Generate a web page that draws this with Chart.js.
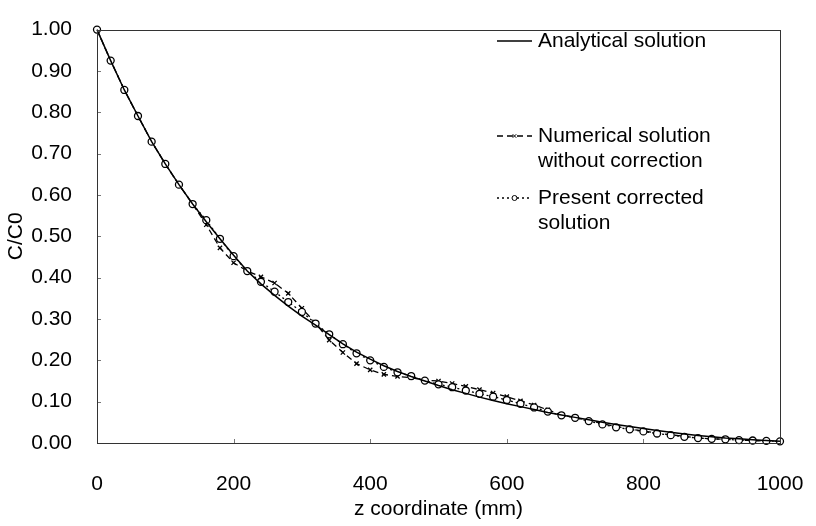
<!DOCTYPE html>
<html>
<head>
<meta charset="utf-8">
<script src="https://cdn.jsdelivr.net/npm/chart.js@4.4.1/dist/chart.umd.min.js"></script>
<style>
  html, body { margin: 0; padding: 0; background: #fff; }
  #wrap { width: 816px; height: 526px; }
</style>
</head>
<body>
<div id="wrap"><canvas id="chart" width="816" height="526"></canvas></div>
<script>
// z coordinate (mm)
const zCoords = [0, 20, 40, 60, 80, 100, 120, 140, 160, 180, 200, 220, 240, 260, 280, 300, 320, 340, 360, 380,
    400, 420, 440, 460, 480, 500, 520, 540, 560, 580, 600, 620, 640, 660, 680, 700, 720, 740, 760, 780,
    800, 820, 840, 860, 880, 900, 920, 940, 960, 980, 1000];

// C/C0 values
const analytical = [1.000, 0.925, 0.854, 0.791, 0.729, 0.675, 0.625, 0.578, 0.535, 0.494, 0.454, 0.416, 0.385,
    0.357, 0.331, 0.307, 0.285, 0.262, 0.240, 0.220, 0.203, 0.187, 0.173, 0.161, 0.150, 0.139, 0.129, 0.120,
    0.111, 0.103, 0.095, 0.088, 0.081, 0.074, 0.068, 0.062, 0.056, 0.050, 0.045, 0.040, 0.035, 0.030, 0.026,
    0.022, 0.018, 0.015, 0.012, 0.010, 0.008, 0.006, 0.004];
const numerical = [1.000, 0.925, 0.854, 0.791, 0.729, 0.675, 0.625, 0.578, 0.528, 0.472, 0.436, 0.416, 0.402,
    0.387, 0.362, 0.326, 0.290, 0.249, 0.219, 0.192, 0.177, 0.166, 0.161, 0.158, 0.152, 0.150, 0.144, 0.137,
    0.129, 0.121, 0.112, 0.102, 0.092, 0.080, 0.068, 0.062, 0.054, 0.047, 0.040, 0.034, 0.029, 0.024, 0.020,
    0.016, 0.012, 0.010, 0.009, 0.007, 0.006, 0.005, 0.004];
const corrected = [1.000, 0.925, 0.854, 0.791, 0.729, 0.675, 0.625, 0.578, 0.539, 0.494, 0.452, 0.416, 0.390,
    0.366, 0.341, 0.317, 0.289, 0.263, 0.239, 0.217, 0.200, 0.184, 0.171, 0.162, 0.151, 0.142, 0.135, 0.127,
    0.119, 0.112, 0.104, 0.095, 0.086, 0.076, 0.067, 0.061, 0.053, 0.045, 0.038, 0.033, 0.028, 0.023, 0.019,
    0.015, 0.012, 0.010, 0.009, 0.007, 0.006, 0.005, 0.004];

const seriesLabels = ["Analytical solution", "Numerical solution\nwithout correction", "Present corrected\nsolution"];

const FONT = "'Liberation Sans', Arial, sans-serif";

function toPoints(values) {
    return zCoords.map((z, i) => ({ x: z, y: values[i] }));
}

// frame + small inward tick marks, like the original spreadsheet plot
const framePlugin = {
    id: "frame",
    afterDraw(chart) {
        const { ctx, chartArea: a, scales } = chart;
        ctx.save();
        ctx.strokeStyle = "#777";
        ctx.lineWidth = 1;
        scales.y.ticks.forEach(t => {
            const y = Math.round(scales.y.getPixelForValue(t.value)) + 0.5;
            ctx.beginPath(); ctx.moveTo(a.left, y); ctx.lineTo(a.left + 4, y); ctx.stroke();
        });
        scales.x.ticks.forEach(t => {
            const x = Math.round(scales.x.getPixelForValue(t.value)) + 0.5;
            ctx.beginPath(); ctx.moveTo(x, a.bottom); ctx.lineTo(x, a.bottom - 4); ctx.stroke();
        });
        ctx.strokeStyle = "#333";
        ctx.strokeRect(Math.round(a.left) + 0.5, Math.round(a.top) + 0.5,
            Math.round(a.right - a.left), Math.round(a.bottom - a.top));
        ctx.restore();
    }
};

// legend drawn inside the plot area
const legendPlugin = {
    id: "innerLegend",
    afterDraw(chart) {
        const ctx = chart.ctx;
        const x0 = 497, x1 = 532, tx = 538;
        const rows = [41, 136, 198];
        ctx.save();
        ctx.font = "21px " + FONT;
        ctx.fillStyle = "#000";
        ctx.textBaseline = "middle";
        chart.data.datasets.forEach((ds, i) => {
            const y = rows[i];
            ctx.strokeStyle = "#000";
            ctx.lineWidth = ds.borderWidth;
            ctx.setLineDash(ds.borderDash || []);
            ctx.beginPath(); ctx.moveTo(x0, y); ctx.lineTo(x1, y); ctx.stroke();
            ctx.setLineDash([]);
            if (ds.pointRadius > 0) {
                ctx.lineWidth = 1;
                ctx.fillStyle = "#fff";
                Chart.helpers.drawPoint(ctx, { pointStyle: ds.pointStyle, radius: 2.5, borderWidth: 1 }, (x0 + x1) / 2, y);
                ctx.fillStyle = "#000";
            }
            const lines = seriesLabels[i].split("\n");
            lines.forEach((ln, k) => ctx.fillText(ln, tx, y + k * 25));
        });
        ctx.restore();
    }
};

new Chart(document.getElementById("chart").getContext("2d"), {
    type: "line",
    data: {
        datasets: [
            {
                label: seriesLabels[0],
                data: toPoints(analytical),
                borderColor: "#000",
                borderWidth: 1.5,
                pointRadius: 0,
                order: 0
            },
            {
                label: seriesLabels[1],
                data: toPoints(numerical),
                borderColor: "#000",
                borderWidth: 1.3,
                borderDash: [6, 4],
                pointStyle: "crossRot",
                pointRadius: 3,
                pointBorderColor: "#000",
                pointBorderWidth: 1.3,
                order: 2
            },
            {
                label: seriesLabels[2],
                data: toPoints(corrected),
                borderColor: "#000",
                borderWidth: 1.3,
                borderDash: [2, 3],
                pointStyle: "circle",
                pointRadius: 3.5,
                pointBackgroundColor: "#fff",
                pointBorderColor: "#000",
                pointBorderWidth: 1.3,
                order: 1
            }
        ]
    },
    options: {
        responsive: false,
        animation: false,
        clip: false,
        layout: { padding: { top: 18, right: 36, bottom: 0, left: 0 } },
        plugins: {
            legend: { display: false },
            tooltip: { enabled: false }
        },
        scales: {
            x: {
                type: "linear",
                min: 0,
                max: 1000,
                border: { display: false },
                grid: { display: false },
                ticks: {
                    stepSize: 200,
                    padding: 21,
                    color: "#000",
                    font: { family: FONT, size: 21 },
                    callback: v => String(v)
                },
                title: { display: true, text: "z coordinate (mm)", color: "#000", font: { family: FONT, size: 21 }, padding: { top: 2, bottom: 4 } },
                afterFit(scale) { scale.height = 83; scale.paddingRight = 0; }
            },
            y: {
                min: 0,
                max: 1,
                border: { display: false },
                grid: { display: false },
                ticks: {
                    stepSize: 0.1,
                    padding: 17,
                    color: "#000",
                    font: { family: FONT, size: 21 },
                    callback: v => v.toFixed(2)
                },
                title: { display: true, text: "C/C0", color: "#000", font: { family: FONT, size: 21 }, padding: { top: 4, bottom: 4 } },
                afterFit(scale) { scale.width = 97; }
            }
        }
    },
    plugins: [framePlugin, legendPlugin]
});
</script>
</body>
</html>
